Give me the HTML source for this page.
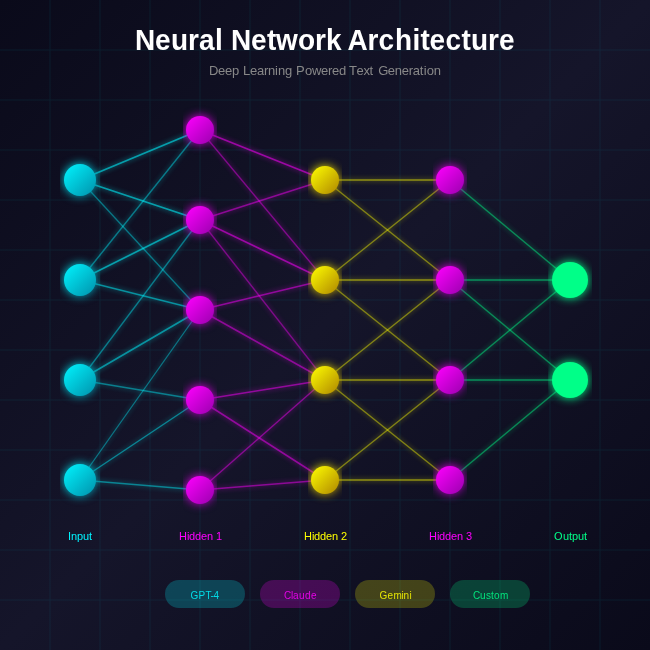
<!DOCTYPE html>
<html><head><meta charset="utf-8"><title>Neural Network Architecture</title>
<style>
html,body{margin:0;padding:0;background:#0a0a1a;}
body{width:650px;height:650px;overflow:hidden;}
svg{display:block;font-family:"Liberation Sans",Arial,sans-serif;}
.t{opacity:0.999;}
</style></head><body>
<svg width="650" height="650" viewBox="0 0 650 650">
<defs>
<linearGradient id="bg" x1="0" y1="0" x2="1" y2="1"><stop offset="0" stop-color="#0a0a1a"/><stop offset="0.5" stop-color="#15152a"/><stop offset="1" stop-color="#0a0a1a"/></linearGradient>
<linearGradient id="gc" x1="0" y1="0" x2="1" y2="1"><stop offset="0" stop-color="#00f5ff"/><stop offset="1" stop-color="#0091ab"/></linearGradient>
<linearGradient id="gm" x1="0" y1="0" x2="1" y2="1"><stop offset="0" stop-color="#ff00ff"/><stop offset="1" stop-color="#9b00af"/></linearGradient>
<linearGradient id="gy" x1="0" y1="0" x2="1" y2="1"><stop offset="0" stop-color="#ffff00"/><stop offset="1" stop-color="#af8700"/></linearGradient>
<linearGradient id="gg" x1="0" y1="0" x2="1" y2="1"><stop offset="0" stop-color="#00ff88"/><stop offset="1" stop-color="#00ff88"/></linearGradient>
<filter id="glow"><feGaussianBlur stdDeviation="5" result="b"/><feMerge><feMergeNode in="b"/><feMergeNode in="SourceGraphic"/></feMerge></filter>
<filter id="lglow" filterUnits="userSpaceOnUse" x="0" y="0" width="650" height="650"><feGaussianBlur stdDeviation="2.7" result="b"/><feMerge><feMergeNode in="b"/><feMergeNode in="SourceGraphic"/></feMerge></filter>
</defs>
<rect width="650" height="650" fill="url(#bg)"/>
<g stroke="#00f5ff" stroke-width="1" opacity="0.065">
<line x1="50" y1="0" x2="50" y2="650"/><line x1="0" y1="50" x2="650" y2="50"/>
<line x1="100" y1="0" x2="100" y2="650"/><line x1="0" y1="100" x2="650" y2="100"/>
<line x1="150" y1="0" x2="150" y2="650"/><line x1="0" y1="150" x2="650" y2="150"/>
<line x1="200" y1="0" x2="200" y2="650"/><line x1="0" y1="200" x2="650" y2="200"/>
<line x1="250" y1="0" x2="250" y2="650"/><line x1="0" y1="250" x2="650" y2="250"/>
<line x1="300" y1="0" x2="300" y2="650"/><line x1="0" y1="300" x2="650" y2="300"/>
<line x1="350" y1="0" x2="350" y2="650"/><line x1="0" y1="350" x2="650" y2="350"/>
<line x1="400" y1="0" x2="400" y2="650"/><line x1="0" y1="400" x2="650" y2="400"/>
<line x1="450" y1="0" x2="450" y2="650"/><line x1="0" y1="450" x2="650" y2="450"/>
<line x1="500" y1="0" x2="500" y2="650"/><line x1="0" y1="500" x2="650" y2="500"/>
<line x1="550" y1="0" x2="550" y2="650"/><line x1="0" y1="550" x2="650" y2="550"/>
<line x1="600" y1="0" x2="600" y2="650"/><line x1="0" y1="600" x2="650" y2="600"/>
</g>
<g filter="url(#lglow)">
<line x1="80" y1="180" x2="200" y2="130" stroke="#00f5ff" stroke-width="1.8" opacity="0.56"/>
<line x1="80" y1="180" x2="200" y2="220" stroke="#00f5ff" stroke-width="1.8" opacity="0.56"/>
<line x1="80" y1="180" x2="200" y2="310" stroke="#00f5ff" stroke-width="1.25" opacity="0.4"/>
<line x1="80" y1="280" x2="200" y2="130" stroke="#00f5ff" stroke-width="1.32" opacity="0.42"/>
<line x1="80" y1="280" x2="200" y2="220" stroke="#00f5ff" stroke-width="1.8" opacity="0.56"/>
<line x1="80" y1="280" x2="200" y2="310" stroke="#00f5ff" stroke-width="1.59" opacity="0.5"/>
<line x1="80" y1="380" x2="200" y2="220" stroke="#00f5ff" stroke-width="1.32" opacity="0.42"/>
<line x1="80" y1="380" x2="200" y2="310" stroke="#00f5ff" stroke-width="1.59" opacity="0.5"/>
<line x1="80" y1="380" x2="200" y2="400" stroke="#00f5ff" stroke-width="1.32" opacity="0.42"/>
<line x1="80" y1="480" x2="200" y2="310" stroke="#00f5ff" stroke-width="1.25" opacity="0.4"/>
<line x1="80" y1="480" x2="200" y2="400" stroke="#00f5ff" stroke-width="1.46" opacity="0.46"/>
<line x1="80" y1="480" x2="200" y2="490" stroke="#00f5ff" stroke-width="1.39" opacity="0.44"/>
<line x1="200" y1="130" x2="325" y2="180" stroke="#ff00ff" stroke-width="1.66" opacity="0.52"/>
<line x1="200" y1="130" x2="325" y2="280" stroke="#ff00ff" stroke-width="1.28" opacity="0.41"/>
<line x1="200" y1="220" x2="325" y2="180" stroke="#ff00ff" stroke-width="1.46" opacity="0.46"/>
<line x1="200" y1="220" x2="325" y2="280" stroke="#ff00ff" stroke-width="1.66" opacity="0.52"/>
<line x1="200" y1="220" x2="325" y2="380" stroke="#ff00ff" stroke-width="1.25" opacity="0.4"/>
<line x1="200" y1="310" x2="325" y2="280" stroke="#ff00ff" stroke-width="1.53" opacity="0.48"/>
<line x1="200" y1="310" x2="325" y2="380" stroke="#ff00ff" stroke-width="1.46" opacity="0.46"/>
<line x1="200" y1="400" x2="325" y2="380" stroke="#ff00ff" stroke-width="1.53" opacity="0.48"/>
<line x1="200" y1="400" x2="325" y2="480" stroke="#ff00ff" stroke-width="1.53" opacity="0.48"/>
<line x1="200" y1="490" x2="325" y2="380" stroke="#ff00ff" stroke-width="1.39" opacity="0.44"/>
<line x1="200" y1="490" x2="325" y2="480" stroke="#ff00ff" stroke-width="1.46" opacity="0.46"/>
<line x1="325" y1="180" x2="450" y2="180" stroke="#ffff00" stroke-width="1.5" opacity="0.48"/>
<line x1="325" y1="180" x2="450" y2="280" stroke="#ffff00" stroke-width="1.4" opacity="0.42"/>
<line x1="325" y1="280" x2="450" y2="180" stroke="#ffff00" stroke-width="1.4" opacity="0.42"/>
<line x1="325" y1="280" x2="450" y2="280" stroke="#ffff00" stroke-width="1.5" opacity="0.48"/>
<line x1="325" y1="280" x2="450" y2="380" stroke="#ffff00" stroke-width="1.4" opacity="0.42"/>
<line x1="325" y1="380" x2="450" y2="280" stroke="#ffff00" stroke-width="1.4" opacity="0.42"/>
<line x1="325" y1="380" x2="450" y2="380" stroke="#ffff00" stroke-width="1.5" opacity="0.48"/>
<line x1="325" y1="380" x2="450" y2="480" stroke="#ffff00" stroke-width="1.4" opacity="0.42"/>
<line x1="325" y1="480" x2="450" y2="380" stroke="#ffff00" stroke-width="1.4" opacity="0.42"/>
<line x1="325" y1="480" x2="450" y2="480" stroke="#ffff00" stroke-width="1.5" opacity="0.48"/>
<line x1="450" y1="180" x2="570" y2="280" stroke="#00ff88" stroke-width="1.5" opacity="0.45"/>
<line x1="450" y1="280" x2="570" y2="280" stroke="#00ff88" stroke-width="1.5" opacity="0.48"/>
<line x1="450" y1="280" x2="570" y2="380" stroke="#00ff88" stroke-width="1.5" opacity="0.45"/>
<line x1="450" y1="380" x2="570" y2="280" stroke="#00ff88" stroke-width="1.5" opacity="0.45"/>
<line x1="450" y1="380" x2="570" y2="380" stroke="#00ff88" stroke-width="1.5" opacity="0.48"/>
<line x1="450" y1="480" x2="570" y2="380" stroke="#00ff88" stroke-width="1.5" opacity="0.45"/>
</g>
<g>
<g filter="url(#glow)">
<circle cx="80" cy="180" r="16" fill="url(#gc)"/>
<circle cx="80" cy="280" r="16" fill="url(#gc)"/>
<circle cx="80" cy="380" r="16" fill="url(#gc)"/>
<circle cx="80" cy="480" r="16" fill="url(#gc)"/>
</g>
<g filter="url(#glow)">
<circle cx="200" cy="130" r="14" fill="url(#gm)"/>
<circle cx="200" cy="220" r="14" fill="url(#gm)"/>
<circle cx="200" cy="310" r="14" fill="url(#gm)"/>
<circle cx="200" cy="400" r="14" fill="url(#gm)"/>
<circle cx="200" cy="490" r="14" fill="url(#gm)"/>
</g>
<g filter="url(#glow)">
<circle cx="325" cy="180" r="14" fill="url(#gy)"/>
<circle cx="325" cy="280" r="14" fill="url(#gy)"/>
<circle cx="325" cy="380" r="14" fill="url(#gy)"/>
<circle cx="325" cy="480" r="14" fill="url(#gy)"/>
</g>
<g filter="url(#glow)">
<circle cx="450" cy="180" r="14" fill="url(#gm)"/>
<circle cx="450" cy="280" r="14" fill="url(#gm)"/>
<circle cx="450" cy="380" r="14" fill="url(#gm)"/>
<circle cx="450" cy="480" r="14" fill="url(#gm)"/>
</g>
<g filter="url(#glow)">
<circle cx="570" cy="280" r="18" fill="url(#gg)"/>
<circle cx="570" cy="380" r="18" fill="url(#gg)"/>
</g>
</g>
<rect x="165" y="580" width="80" height="28" rx="14" fill="#00f5ff" opacity="0.22"/>
<rect x="260" y="580" width="80" height="28" rx="14" fill="#ff00ff" opacity="0.22"/>
<rect x="355" y="580" width="80" height="28" rx="14" fill="#ffff00" opacity="0.22"/>
<rect x="450" y="580" width="80" height="28" rx="14" fill="#00ff88" opacity="0.22"/>
<g class="t">
<text x="135 155 171 188 199 215 223 231 251 267 276 298 315 326 342 347.5 367.5 378.5 395 412.5 420.5 429.5 445.5 461.5 471 488 499" y="50" fill="#ffffff" font-size="28" font-weight="bold" transform="translate(0,50) scale(1,1.055) translate(0,-50)">Neural Network Architecture</text>
<text x="209 218 225 232 239 243 250 257 264 268 275 278 285 292 296 305 312 321 328 332 339 346 349 356.5 363.5 369.5 373.5 378.2 387.8 394.8 401.8 408.8 412.8 419.8 423.8 426.8 433.8" y="75" fill="#888888" font-size="13">Deep Learning Powered Text Generation</text>
<text x="68 71 77 83 89" y="540" fill="#00f5ff" font-size="11">Input</text>
<text x="179 187 189 195 201 207 213 216" y="540" fill="#ff00ff" font-size="11">Hidden 1</text>
<text x="304 312 314 320 326 332 338 341" y="540" fill="#ffff00" font-size="11">Hidden 2</text>
<text x="429 437 439 445 451 457 463 466" y="540" fill="#ff00ff" font-size="11">Hidden 3</text>
<text x="554 563 569 572 578 584" y="540" fill="#00ff88" font-size="11">Output</text>
<text x="190.5 198.5 205.5 210.5 213.5" y="598.6" fill="#00f5ff" fill-opacity="0.85" font-size="10">GPT-4</text>
<text x="284 291 293 299 305 311" y="598.6" fill="#ff00ff" fill-opacity="0.85" font-size="10">Claude</text>
<text x="379.5 387.5 393.5 401.5 403.5 409.5" y="598.6" fill="#ffff00" fill-opacity="0.85" font-size="10">Gemini</text>
<text x="473 480 486 491 494 500" y="598.6" fill="#00ff88" fill-opacity="0.85" font-size="10">Custom</text>
</g>
</svg>
</body></html>
